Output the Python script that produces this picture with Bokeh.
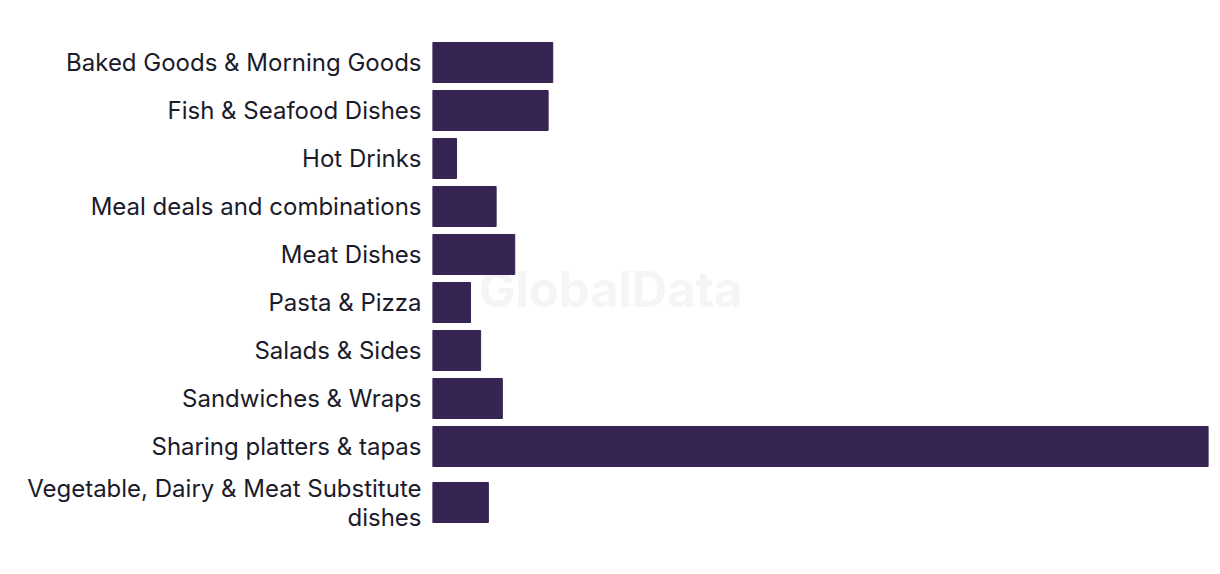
from bokeh.plotting import figure
from bokeh.models import Range1d, Label, ColumnDataSource, FixedTicker
from bokeh.embed import file_html
from bokeh.resources import INLINE

categories = [
    "Baked Goods & Morning Goods",
    "Fish & Seafood Dishes",
    "Hot Drinks",
    "Meal deals and combinations",
    "Meat Dishes",
    "Pasta & Pizza",
    "Salads & Sides",
    "Sandwiches & Wraps",
    "Sharing platters & tapas",
    "Vegetable, Dairy & Meat Substitute\ndishes",
]
values = [15.5, 14.9, 3.1, 8.2, 10.6, 4.9, 6.2, 9.0, 100.0, 7.2]

# band layout: each row 48px, plus 16px for each extra label line
centers = []
pos = 0
for c in categories:
    band = 48 + 16 * c.count("\n")
    centers.append(pos + band // 2)
    pos += band
total = pos
top = 38

src = ColumnDataSource(dict(y=centers, val=values))

p = figure(
    width=1220, height=574,
    frame_width=776, frame_height=total,
    min_border_left=432, min_border_right=12,
    min_border_top=top, min_border_bottom=574 - top - total,
    y_range=Range1d(total, 0),
    x_range=Range1d(0, max(values)),
    output_backend="svg", toolbar_location=None,
)
p.hbar(y="y", right="val", left=0, height=40, color="#362452", source=src)

p.xaxis.visible = False
p.xgrid.visible = False
p.ygrid.visible = False
p.outline_line_color = None
p.background_fill_color = "white"
p.border_fill_color = "white"

ya = p.yaxis[0]
ya.ticker = FixedTicker(ticks=centers, minor_ticks=[])
ya.major_label_overrides = {c: lab for c, lab in zip(centers, categories)}
ya.axis_line_color = None
ya.major_tick_line_color = None
ya.minor_tick_line_color = None
ya.major_label_text_font = "Inter"
ya.major_label_text_font_size = "24px"
ya.major_label_text_line_height = 1.0
ya.major_label_text_color = "#1b1b2b"
ya.major_label_standoff = 5

# watermark centred at canvas (610, 289); screen units are relative to the frame
wm = Label(x=610 - 432, y=top + total - 289, x_units="screen", y_units="screen",
           text="GlobalData",
           text_font="Inter", text_font_style="bold", text_font_size="49px",
           text_color="#f5f5f5", text_align="center", text_baseline="middle",
           level="underlay")
p.add_layout(wm)

open("out.html", "w").write(file_html(p, INLINE))
